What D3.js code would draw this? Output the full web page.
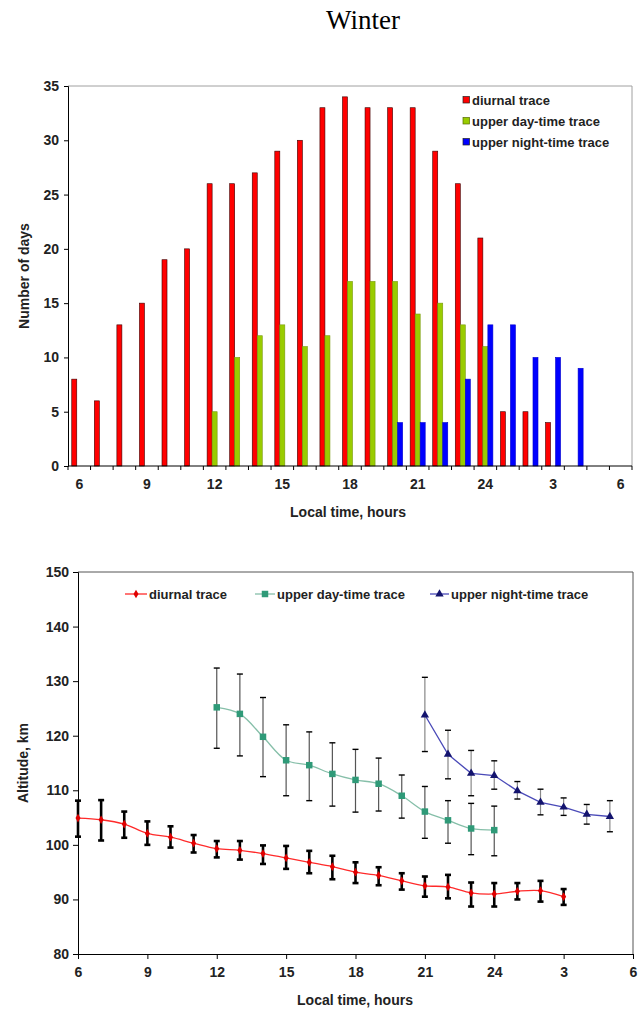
<!DOCTYPE html>
<html>
<head>
<meta charset="utf-8">
<script src="https://cdn.jsdelivr.net/npm/d3@7"></script>
<style>
  body { margin: 0; background: #fff; }
  svg { display: block; font-family: "Liberation Sans", Arial, sans-serif; }
  .tick text { font-weight: bold; font-size: 14px; fill: #222; }
  .ttl { font-weight: bold; font-size: 14px; fill: #222; }
  .leg { font-weight: bold; font-size: 13px; fill: #222; }
</style>
</head>
<body>
<svg id="chart" width="638" height="1011"></svg>
<script>
// ---- top chart: number of days per local hour ----
const barHours = [6, 7, 8, 9, 10, 11, 12, 13, 14, 15, 16, 17, 18, 19, 20, 21, 22, 23, 24, 25, 26, 27, 28, 29, 30];
const barTickLabels = { 6: "6", 9: "9", 12: "12", 15: "15", 18: "18", 21: "21", 24: "24", 27: "3", 30: "6" };
const diurnalDays   = [8, 6, 13, 15, 19, 20, 26, 26, 27, 29, 30, 33, 34, 33, 33, 33, 29, 26, 21, 5, 5, 4, 0, 0, 0];
const dayTimeDays   = [0, 0, 0, 0, 0, 0, 5, 10, 12, 13, 11, 12, 17, 17, 17, 14, 15, 13, 11, 0, 0, 0, 0, 0, 0];
const nightTimeDays = [0, 0, 0, 0, 0, 0, 0, 0, 0, 0, 0, 0, 0, 0, 4, 4, 4, 8, 13, 13, 10, 10, 9, 0, 0];
const seriesNames = ["diurnal trace", "upper day-time trace", "upper night-time trace"];

// ---- bottom chart: altitude with spread ----
const diurnalHours = [6, 7, 8, 9, 10, 11, 12, 13, 14, 15, 16, 17, 18, 19, 20, 21, 22, 23, 24, 25, 26, 27];
const diurnalAlt   = [104.9, 104.6, 103.8, 102.1, 101.4, 100.3, 99.3, 99.0, 98.4, 97.6, 96.8, 96.0, 95.0, 94.4, 93.4, 92.5, 92.3, 91.2, 91.0, 91.5, 91.6, 90.5];
const diurnalHigh  = [108.1, 108.2, 106.1, 104.3, 103.4, 101.8, 100.7, 100.7, 99.9, 99.8, 98.9, 98.0, 96.8, 95.9, 94.8, 94.2, 94.5, 93.1, 93.0, 93.0, 93.4, 91.9];
const diurnalLow   = [101.5, 100.8, 101.3, 100.0, 99.5, 98.6, 97.7, 97.3, 96.5, 95.6, 94.8, 93.7, 93.0, 92.6, 91.8, 90.5, 90.2, 88.7, 88.7, 90.0, 89.6, 89.0];

const dayHours = [12, 13, 14, 15, 16, 17, 18, 19, 20, 21, 22, 23, 24];
const dayAlt   = [125.2, 124.0, 119.8, 115.5, 114.6, 113.0, 111.9, 111.2, 109.0, 106.1, 104.5, 103.0, 102.7];
const dayHigh  = [132.4, 131.3, 127.0, 122.0, 120.7, 118.7, 117.5, 115.9, 112.8, 110.7, 108.1, 107.6, 107.1];
const dayLow   = [117.7, 116.3, 112.5, 109.0, 108.1, 107.1, 106.0, 106.2, 104.9, 101.2, 100.3, 98.2, 98.0];

const nightHours = [21, 22, 23, 24, 25, 26, 27, 28, 29];
const nightAlt   = [123.8, 116.6, 113.1, 112.7, 109.9, 107.8, 106.9, 105.6, 105.2];
const nightHigh  = [130.7, 121.0, 117.3, 115.4, 111.6, 110.2, 108.6, 107.4, 108.1];
const nightLow   = [117.1, 112.1, 109.0, 110.2, 108.4, 105.5, 105.4, 103.8, 102.4];

const lineTicks = [6, 9, 12, 15, 18, 21, 24, 27, 30];
const lineTickLabels = ["6", "9", "12", "15", "18", "21", "24", "3", "6"];

const svg = d3.select("#chart");

svg.append("text")
  .attr("x", 363).attr("y", 29)
  .attr("text-anchor", "middle")
  .style("font-family", "'Liberation Serif', 'Times New Roman', serif")
  .style("font-size", "27px")
  .text("Winter");

// ================= bar chart =================
const b = { left: 68, right: 632, top: 86, bottom: 466 };

const xBand = d3.scaleBand().domain(barHours).range([b.left, b.right]).paddingInner(0).paddingOuter(0);
const inner = d3.scaleBand().domain([0, 1, 2]).range([0, xBand.bandwidth()]).paddingOuter(0.75).paddingInner(0);
const yBar = d3.scaleLinear().domain([0, 35]).range([b.bottom, b.top]);

const barG = svg.append("g");

// plot frame (grey top/right)
barG.append("path")
  .attr("d", `M${b.left},${b.top}H${b.right}V${b.bottom}`)
  .attr("fill", "none").attr("stroke", "#a0a0a0");

const barColors = ["#ff0000", "#99cc00", "#0000ff"];
const barStroke = ["#3a0000", "#7a9a10", "#0000cc"];
[diurnalDays, dayTimeDays, nightTimeDays].forEach((vals, s) => {
  barG.append("g").selectAll("rect")
    .data(barHours.map((h, i) => ({ h, v: vals[i] })).filter(d => d.v > 0))
    .join("rect")
    .attr("x", d => xBand(d.h) + inner(s))
    .attr("y", d => yBar(d.v))
    .attr("width", inner.bandwidth())
    .attr("height", d => yBar(0) - yBar(d.v))
    .attr("fill", barColors[s])
    .attr("stroke", barStroke[s])
    .attr("stroke-width", 0.6);
});

// y axis
barG.append("g")
  .attr("transform", `translate(${b.left},0)`)
  .call(d3.axisLeft(yBar).tickValues(d3.range(0, 36, 5)).tickSize(4).tickPadding(5))
  .call(g => g.select(".domain").attr("stroke", "#000"));

// x axis: tick marks at category edges, labels at category centres
const xAxisG = barG.append("g").attr("transform", `translate(0,${b.bottom})`);
xAxisG.append("line").attr("x1", b.left).attr("x2", b.right).attr("stroke", "#000");
xAxisG.selectAll("line.edge")
  .data(barHours.concat(["end"]))
  .join("line").attr("class", "edge")
  .attr("x1", d => d === "end" ? b.right : xBand(d))
  .attr("x2", d => d === "end" ? b.right : xBand(d))
  .attr("y1", 0).attr("y2", 4).attr("stroke", "#000");
xAxisG.call(d3.axisBottom(xBand).tickSize(0).tickPadding(13)
    .tickFormat(h => barTickLabels[h] || ""))
  .call(g => g.select(".domain").remove());

barG.append("text").attr("class", "ttl")
  .attr("x", 348).attr("y", 517).attr("text-anchor", "middle")
  .text("Local time, hours");
barG.append("text").attr("class", "ttl")
  .attr("transform", `translate(29,${(b.top + b.bottom) / 2}) rotate(-90)`)
  .attr("text-anchor", "middle")
  .text("Number of days");

// legend
const barLeg = barG.append("g").attr("transform", "translate(463,100)");
seriesNames.forEach((name, i) => {
  const row = barLeg.append("g").attr("transform", `translate(0,${i * 21})`);
  row.append("rect").attr("x", 0).attr("y", -3.5).attr("width", 6.5).attr("height", 6.5)
    .attr("fill", barColors[i]).attr("stroke", i === 1 ? "#556b00" : "#222").attr("stroke-width", 0.7);
  row.append("text").attr("class", "leg").attr("x", 9).attr("y", 4.5).text(name);
});

// ================= line chart =================
const l = { left: 78, right: 633, top: 572, bottom: 954 };
const xLin = d3.scaleLinear().domain([6, 30]).range([l.left, l.right]);
const yLin = d3.scaleLinear().domain([80, 150]).range([l.bottom, l.top]);

const lineG = svg.append("g");
lineG.append("path")
  .attr("d", `M${l.left},${l.top}H${l.right}V${l.bottom}`)
  .attr("fill", "none").attr("stroke", "#555");

lineG.append("g")
  .attr("transform", `translate(${l.left},0)`)
  .call(d3.axisLeft(yLin).tickValues(d3.range(80, 151, 10)).tickSize(5).tickPadding(4))
  .call(g => g.select(".domain").attr("stroke", "#000"));

lineG.append("g")
  .attr("transform", `translate(0,${l.bottom})`)
  .call(d3.axisBottom(xLin).tickValues(lineTicks).tickSize(5).tickPadding(8)
    .tickFormat((d, i) => lineTickLabels[i]))
  .call(g => g.select(".domain").attr("stroke", "#000"));

lineG.append("text").attr("class", "ttl")
  .attr("x", 355).attr("y", 1005).attr("text-anchor", "middle")
  .text("Local time, hours");
lineG.append("text").attr("class", "ttl")
  .attr("transform", `translate(28,${(l.top + l.bottom) / 2}) rotate(-90)`)
  .attr("text-anchor", "middle")
  .text("Altitude, km");

const lineSeries = [
  { hours: nightHours, alt: nightAlt, hi: nightHigh, lo: nightLow, line: "#4a4ab8", mark: "#14146e",
    errColor: "#888", errWidth: 1.2, capWidth: 1.4, curve: d3.curveLinear, shape: d3.symbolTriangle, size: 30 },
  { hours: dayHours, alt: dayAlt, hi: dayHigh, lo: dayLow, line: "#86bfa9", mark: "#2f9a78",
    errColor: "#555", errWidth: 1.2, capWidth: 1.4, curve: d3.curveCatmullRom, shape: d3.symbolSquare, size: 42 },
  { hours: diurnalHours, alt: diurnalAlt, hi: diurnalHigh, lo: diurnalLow, line: "#ff2a2a", mark: "#e00000",
    errColor: "#000", errWidth: 2.6, capWidth: 2.6, curve: d3.curveCatmullRom, shape: d3.symbolDiamond, size: 22 }
];

lineSeries.forEach(s => {
  const pts = s.hours.map((h, i) => ({ h, v: s.alt[i], hi: s.hi[i], lo: s.lo[i] }));
  const g = lineG.append("g");
  // error bars
  g.selectAll("line.err").data(pts).join("line").attr("class", "err")
    .attr("x1", d => xLin(d.h)).attr("x2", d => xLin(d.h))
    .attr("y1", d => yLin(d.hi)).attr("y2", d => yLin(d.lo))
    .attr("stroke", s.errColor).attr("stroke-width", s.errWidth);
  ["hi", "lo"].forEach(k => {
    g.selectAll(`line.cap-${k}`).data(pts).join("line").attr("class", `cap-${k}`)
      .attr("x1", d => xLin(d.h) - 3).attr("x2", d => xLin(d.h) + 3)
      .attr("y1", d => yLin(d[k])).attr("y2", d => yLin(d[k]))
      .attr("stroke", "#000").attr("stroke-width", s.capWidth);
  });
  g.append("path").datum(pts)
    .attr("d", d3.line().x(d => xLin(d.h)).y(d => yLin(d.v)).curve(s.curve))
    .attr("fill", "none").attr("stroke", s.line).attr("stroke-width", 1.3);
  g.selectAll("path.mk").data(pts).join("path").attr("class", "mk")
    .attr("transform", d => `translate(${xLin(d.h)},${yLin(d.v)})`)
    .attr("d", d3.symbol().type(s.shape).size(s.size))
    .attr("fill", s.mark);
});

// legend
const lineLeg = [
  { name: seriesNames[0], x: 125, w: 22, s: lineSeries[2] },
  { name: seriesNames[1], x: 255, w: 20, s: lineSeries[1] },
  { name: seriesNames[2], x: 430, w: 19, s: lineSeries[0] }
];
lineLeg.forEach(d => {
  const g = lineG.append("g").attr("transform", `translate(${d.x},594)`);
  g.append("line").attr("x1", 0).attr("x2", d.w).attr("stroke", d.s.line).attr("stroke-width", 1.3);
  g.append("path").attr("transform", `translate(${d.w / 2},0)`)
    .attr("d", d3.symbol().type(d.s.shape).size(d.s.size)).attr("fill", d.s.mark);
  g.append("text").attr("class", "leg").attr("x", d.w + 2).attr("y", 4.5).text(d.name);
});
</script>
</body>
</html>
